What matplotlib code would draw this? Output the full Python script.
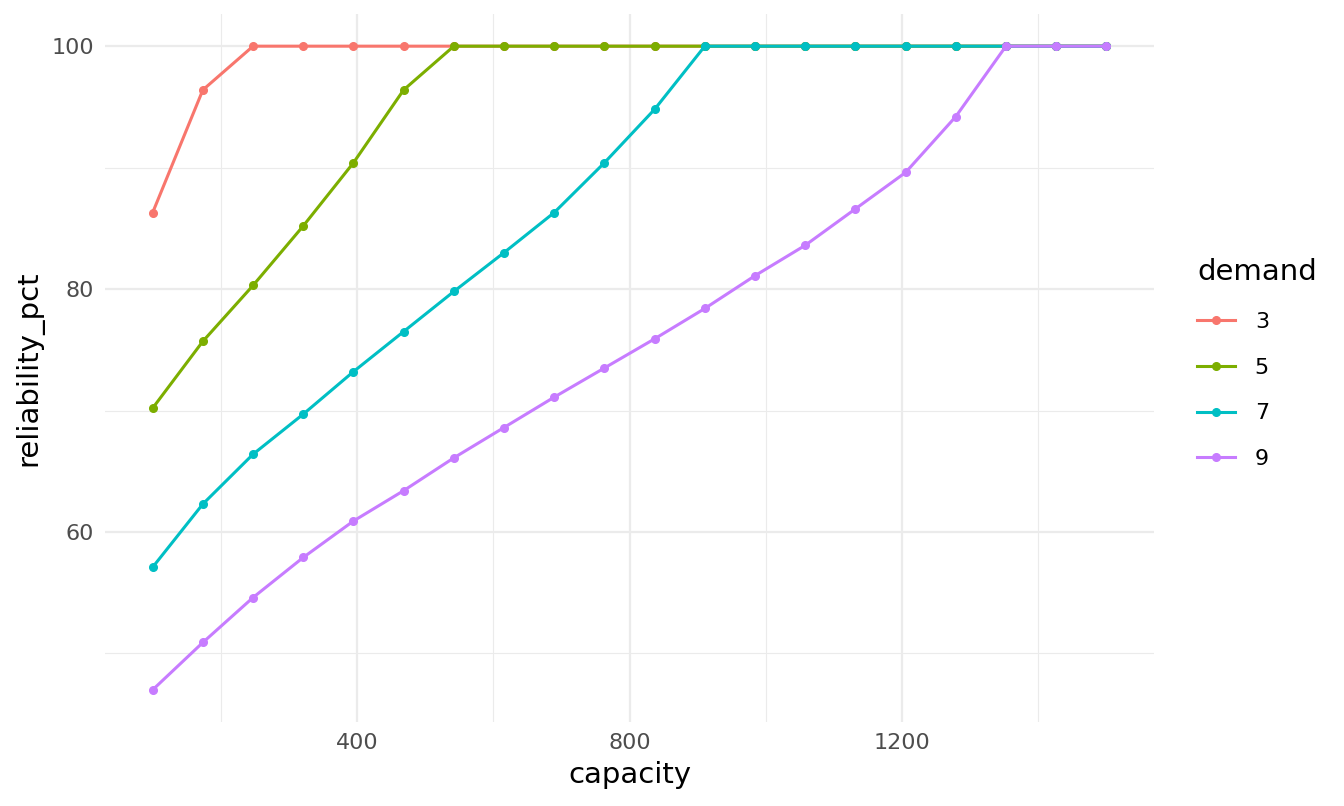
import numpy as np
import matplotlib.pyplot as plt
from matplotlib.ticker import MultipleLocator

# capacity runs from 100 to 1500 in 20 steps
capacity = np.linspace(100, 1500, 20)

demand_levels = ['3', '5', '7', '9']

rel_d3 = [86.3, 96.4, 100, 100, 100, 100, 100, 100, 100, 100,
          100, 100, 100, 100, 100, 100, 100, 100, 100, 100]
rel_d5 = [70.2, 75.7, 80.3, 85.2, 90.4, 96.4, 100, 100, 100, 100,
          100, 100, 100, 100, 100, 100, 100, 100, 100, 100]
rel_d7 = [57.1, 62.3, 66.4, 69.7, 73.2, 76.5, 79.8, 83.0, 86.3, 90.4,
          94.8, 100, 100, 100, 100, 100, 100, 100, 100, 100]
rel_d9 = [47.0, 50.9, 54.6, 57.9, 60.9, 63.4, 66.1, 68.6, 71.1, 73.5,
          75.9, 78.4, 81.1, 83.6, 86.6, 89.6, 94.2, 100, 100, 100]

series = [rel_d3, rel_d5, rel_d7, rel_d9]
colors = ['#F8766D', '#7CAE00', '#00BFC4', '#C77CFF']

fig = plt.figure(figsize=(13.44, 8.06), dpi=100)
ax = fig.add_axes([105 / 1344, 1 - 722 / 806, 1049 / 1344, 708 / 806])

for lab, vals, c in zip(demand_levels, series, colors):
    ax.plot(capacity, vals, color=c, lw=2.2, marker='o', ms=5.5,
            label=lab, zorder=3)

# ggplot-ish theme_minimal
ax.set_xlim(30, 1570)
ax.set_ylim(44.35, 102.65)
ax.xaxis.set_major_locator(MultipleLocator(400))
ax.xaxis.set_minor_locator(MultipleLocator(200))
ax.yaxis.set_major_locator(MultipleLocator(20))
ax.yaxis.set_minor_locator(MultipleLocator(10))
ax.grid(which='major', color='#EBEBEB', lw=1.6, zorder=0)
ax.grid(which='minor', color='#EBEBEB', lw=0.8, zorder=0)
for s in ax.spines.values():
    s.set_visible(False)
ax.tick_params(which='both', length=0, labelsize=16, labelcolor='#4D4D4D')
ax.tick_params(axis='x', pad=8)
ax.tick_params(axis='y', pad=8)
ax.set_axisbelow(True)

ax.set_xlabel('capacity', fontsize=21, labelpad=6)
ax.set_ylabel('reliability_pct', fontsize=21, labelpad=6)

leg = ax.legend(title='demand', loc='upper left',
                bbox_to_anchor=(1197 / 1344, 1 - 258 / 806),
                bbox_transform=fig.transFigure, frameon=False,
                fontsize=16, title_fontsize=21, borderpad=0,
                borderaxespad=0, handlelength=1.7, handletextpad=0.9,
                labelspacing=1.16)
leg._legend_box.align = 'left'

fig.savefig('out.png', dpi=100)
